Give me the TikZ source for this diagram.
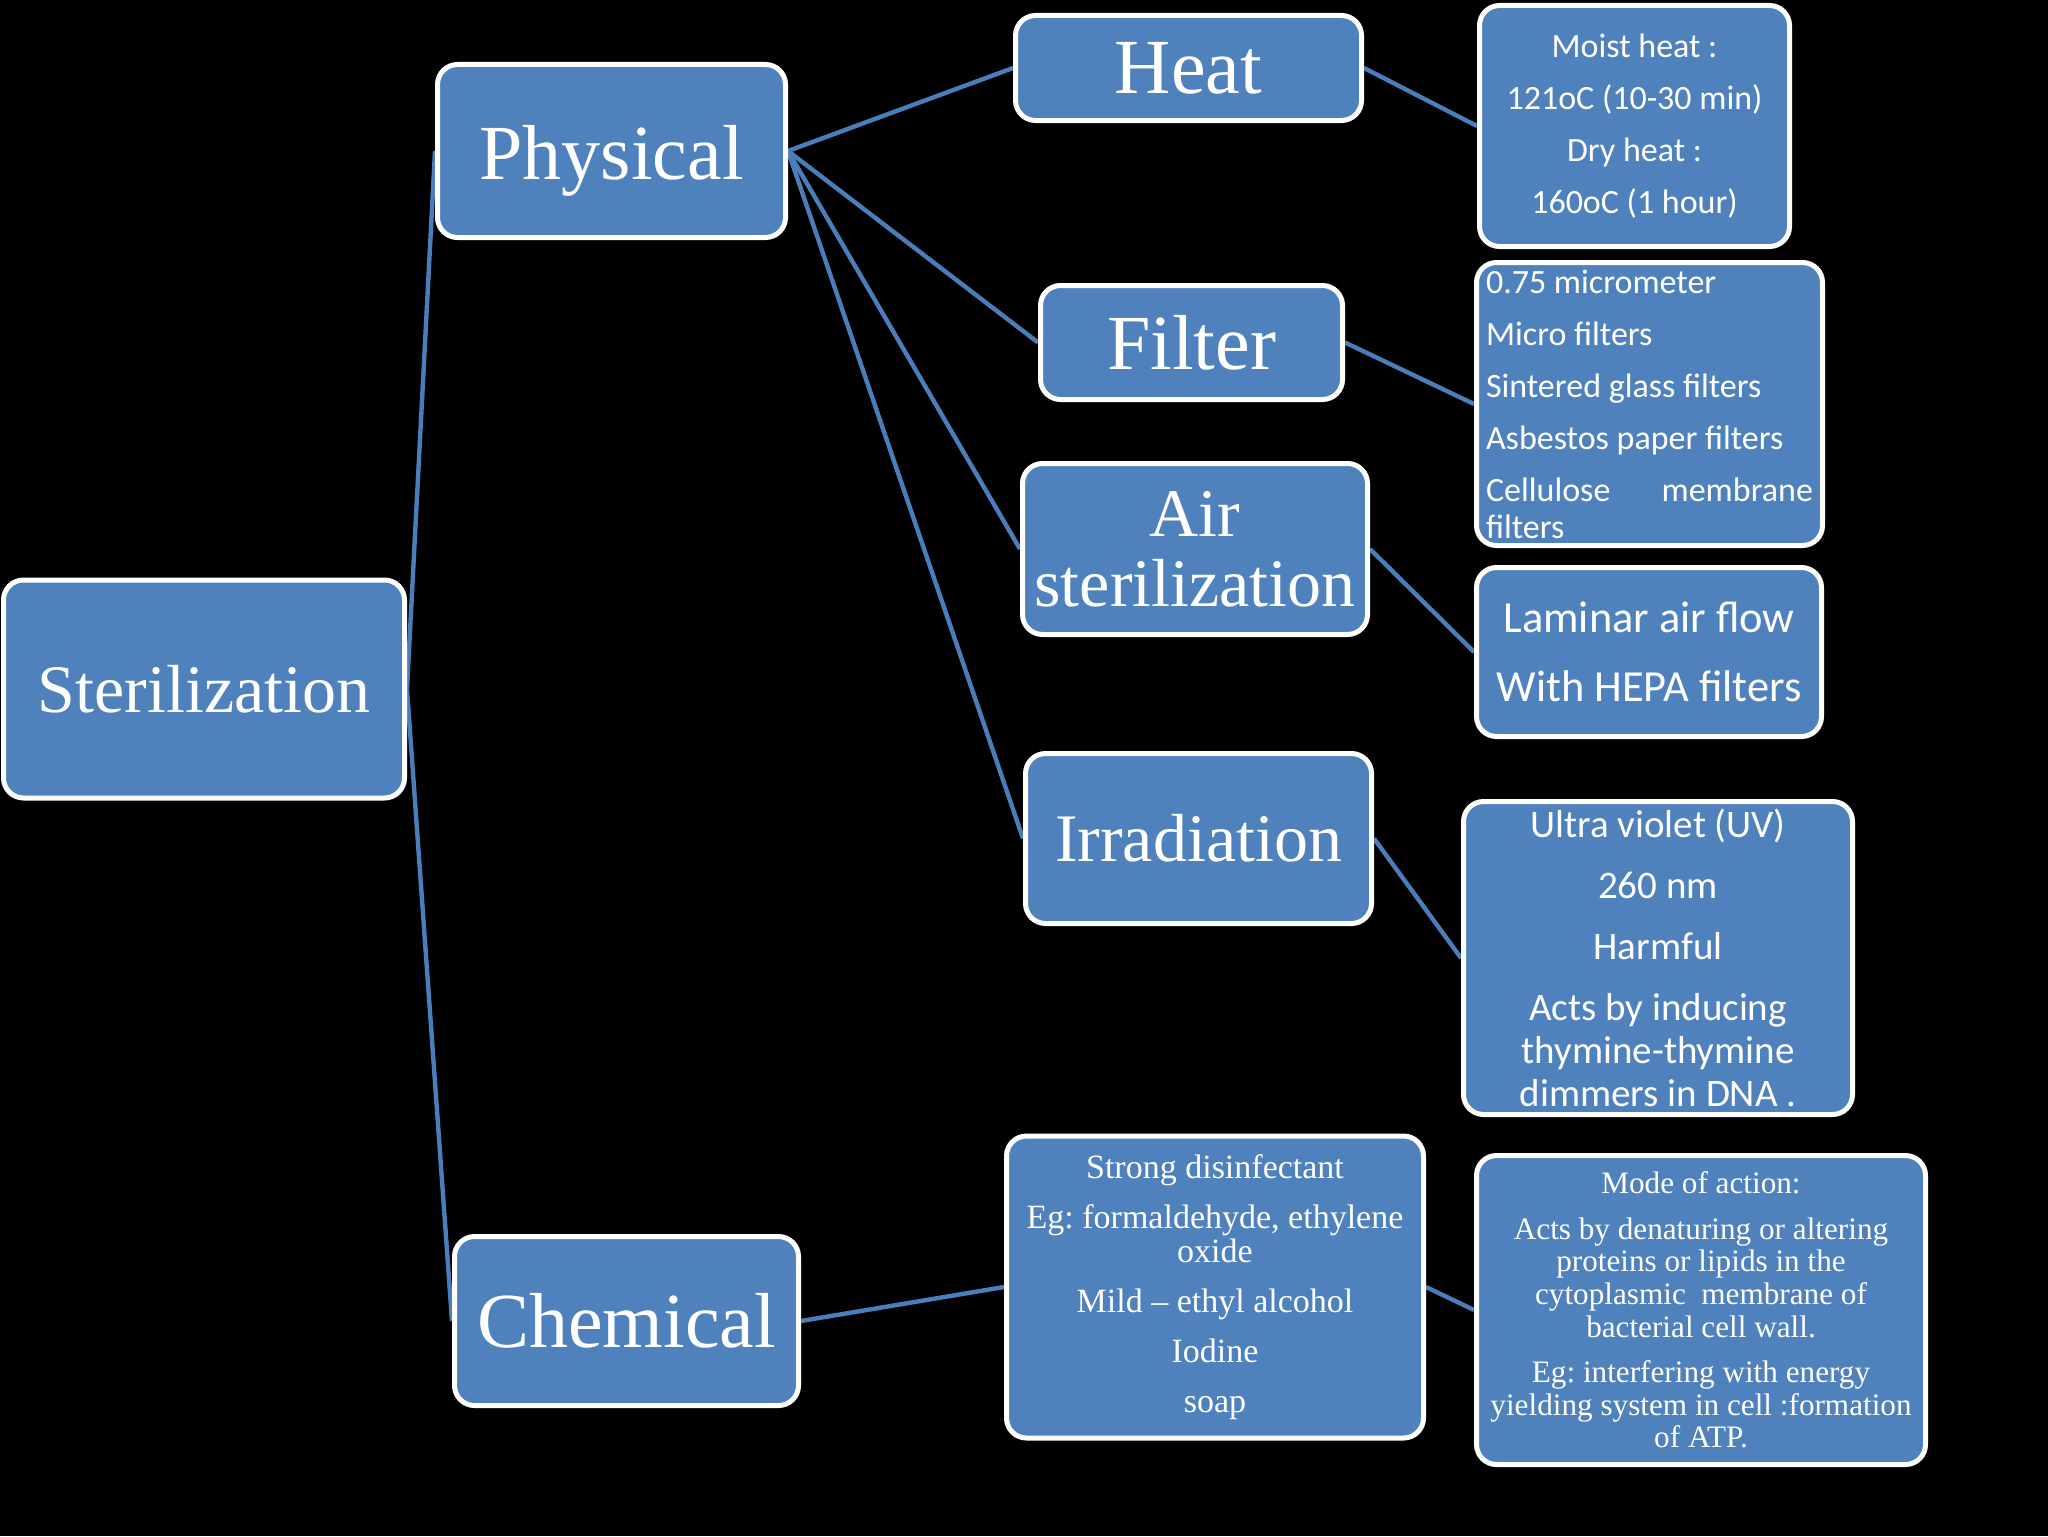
\documentclass[tikz,border=0pt]{standalone}
\usepackage{fontspec}
\setmainfont{Liberation Serif}
\newfontfamily\calib{Carlito}
\usetikzlibrary{backgrounds}
\definecolor{boxblue}{HTML}{4F81BD}
\definecolor{linkblue}{HTML}{4A7EBB}
\frenchspacing
\tikzset{
  box/.style={draw=white, line width=2.5pt, fill=boxblue, rounded corners=10pt,
    text=white, inner sep=0pt, align=center},
  link/.style={draw=linkblue, line width=2.2pt},
  bigfont/.style={font=\fontsize{39}{44}\selectfont},
  midfont/.style={font=\fontsize{34}{35}\selectfont},
}
\begin{document}
\begin{tikzpicture}[x=0.5pt,y=-0.5pt]
\useasboundingbox (0,0) rectangle (2048,1536);
% level 0
\node[box, midfont, minimum width=200.5pt, minimum height=109pt] (ster) at (204,689) {Sterilization};
% level 1
\node[box, bigfont, text height=30pt, text depth=2pt, minimum width=174pt, minimum height=86.5pt] (phys) at (611.5,151) {Physical};
\node[box, bigfont, minimum width=172pt, minimum height=84.5pt] (chem) at (626.5,1321) {Chemical};
% level 2
\node[box, bigfont, minimum width=173pt, minimum height=52.5pt] (heat) at (1188.5,68) {Heat};
\node[box, bigfont, minimum width=151pt, minimum height=57pt] (filt) at (1191.5,342.5) {Filter};
\node[box, midfont, minimum width=172.5pt, minimum height=85.5pt] (air) at (1195,549) {Air\\sterilization};
\node[box, midfont, minimum width=173pt, minimum height=85pt] (irr) at (1198.5,838.5) {Irradiation};
\node[box, font=\fontsize{17}{17}\selectfont, minimum width=208.5pt, minimum height=151pt] (clist) at (1215,1287)
  {Strong disinfectant\\[8pt]Eg: formaldehyde, ethylene\\oxide\\[8pt]Mild -- ethyl alcohol\\[8pt]Iodine\\[8pt]soap};
% level 3
\node[box, font=\calib\fontsize{17}{26}\selectfont, minimum width=155pt, minimum height=120.5pt] (moist) at (1634.5,126)
  {Moist heat :\\121oC (10-30 min)\\Dry heat :\\160oC (1 hour)};
\node[box, font=\calib\fontsize{17}{26}\selectfont, align=left, minimum width=173pt, minimum height=141.5pt] (flist) at (1649.5,404)
  {0.75 micrometer\\Micro filters\\Sintered glass filters\\Asbestos paper filters\\\hbox to 163.5pt{Cellulose\hfill membrane}\\[-7.5pt]filters};
\node[box, font=\calib\fontsize{22.2}{34.5}\selectfont, minimum width=172.5pt, minimum height=84.5pt] (lam) at (1649,652)
  {Laminar air flow\\With HEPA filters};
\node[box, font=\calib\fontsize{19.5}{30.5}\selectfont, minimum width=194.5pt, minimum height=156.5pt] (uv) at (1658,958)
  {Ultra violet (UV)\\260 nm\\Harmful\\Acts by inducing\\[-9pt]thymine-thymine\\[-9pt]dimmers in DNA .};
\node[box, font=\fontsize{15.6}{16.3}\selectfont, minimum width=224.5pt, minimum height=154.5pt] (mode) at (1701,1310)
  {Mode of action:\\[6.5pt]Acts by denaturing or altering\\proteins or lipids in the\\cytoplasmic\ \ membrane of\\bacterial cell wall.\\[6.5pt]Eg: interfering with energy\\yielding system in cell :formation\\of ATP.};
% background and connectors
\begin{scope}[on background layer]
  \fill[black] (0,0) rectangle (2048,1536);
  \draw[link] (ster.east) -- (phys.west);
  \draw[link] (ster.east) -- (chem.west);
  \draw[link] (phys.east) -- (heat.west);
  \draw[link] (phys.east) -- (filt.west);
  \draw[link] (phys.east) -- (air.west);
  \draw[link] (phys.east) -- (irr.west);
  \draw[link] (chem.east) -- (clist.west);
  \draw[link] (heat.east) -- (moist.west);
  \draw[link] (filt.east) -- (flist.west);
  \draw[link] (air.east) -- (lam.west);
  \draw[link] (irr.east) -- (uv.west);
  \draw[link] (clist.east) -- (mode.west);
\end{scope}
\end{tikzpicture}
\end{document}
